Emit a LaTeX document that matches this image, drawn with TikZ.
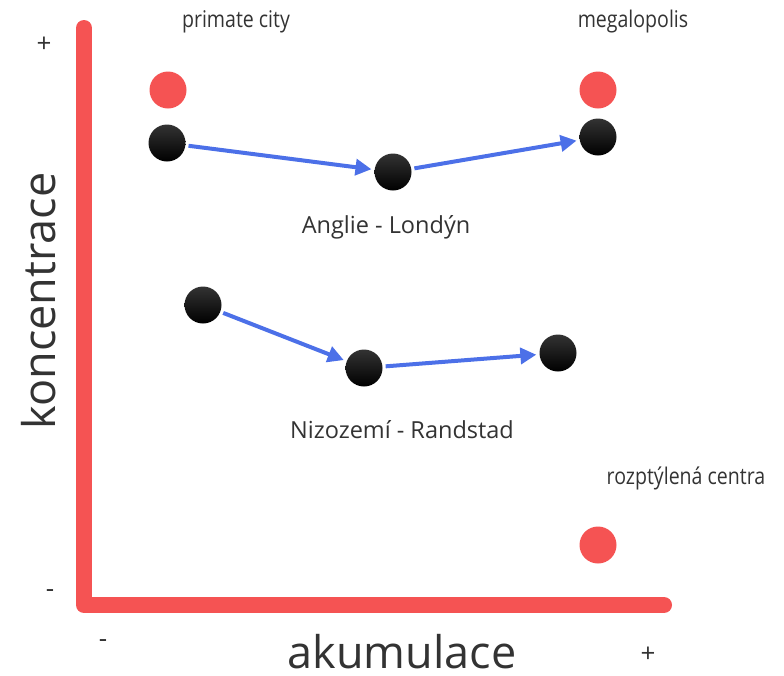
\documentclass[tikz,border=0pt]{standalone}
\usepackage{fontspec}
\setmainfont{Open Sans}
\newfontfamily\narrowfont[FakeStretch=0.85]{Open Sans}
\usepackage{xcolor}
\usetikzlibrary{positioning, arrows.meta}

\definecolor{axisred}{RGB}{245,83,83}
\definecolor{arrowblue}{RGB}{76,112,232}
\definecolor{textgray}{RGB}{51,51,51}

\tikzset{
  reddot/.style={circle, fill=axisred, minimum size=37pt, inner sep=0pt},
  blackdot/.style={circle, top color=black!80, bottom color=black, minimum size=37pt, inner sep=0pt},
  move/.style={-{Triangle[length=16pt,width=16pt]}, line width=4pt, color=arrowblue, shorten <=3pt, shorten >=3pt},
  typelabel/.style={font=\narrowfont\fontsize{23}{26}\selectfont, text=textgray, anchor=base},
  caselabel/.style={font=\fontsize{23.5}{27}\selectfont, text=textgray, anchor=base},
  axislabel/.style={font=\fontsize{45}{50}\selectfont, text=textgray, anchor=base, inner sep=0pt},
  signlabel/.style={font=\fontsize{26}{28}\selectfont, text=textgray}
}

\begin{document}
\begin{tikzpicture}[x=1pt,y=-1pt]
\useasboundingbox (0,0) rectangle (784,675);
%axes
\draw[line width=16pt, color=axisred, line cap=round, line join=round] (84,28) -- (84,605) -- (664,605);
\node[signlabel] (yplus) at (44,45) {+};
\node[signlabel] (yminus) at (50,594) {-};
\node[signlabel] (xminus) at (103,644) {-};
\node[signlabel] (xplus) at (648,655) {+};
\node[axislabel] (xname) at (402,668) {akumulace};
\node[axislabel, rotate=90] (yname) at (55,301) {koncentrace};
%
\node[typelabel] (primate) at (236,27) {primate city};
\node[typelabel] (megalo) at (633,27) {megalopolis};
\node[typelabel] (scatter) at (686,484) {rozptýlená centra};
\node[reddot] (r1) at (168,90) {};
\node[reddot] (r2) at (598,90) {};
\node[reddot] (r3) at (598,545) {};
%Anglie
\node[blackdot] (a1) at (167,143) {};
\node[blackdot] (a2) at (393,172) {};
\node[blackdot] (a3) at (598,137) {};
\draw[move] (a1) -- (a2);
\draw[move] (a2) -- (a3);
\node[caselabel] (england) at (386,233) {Anglie - Londýn};
%Nizozemi
\node[blackdot] (n1) at (203,305) {};
\node[blackdot] (n2) at (364,368) {};
\node[blackdot] (n3) at (558,353) {};
\draw[move] (n1) -- (n2);
\draw[move] (n2) -- (n3);
\node[caselabel] (dutch) at (402,438) {Nizozemí - Randstad};
\end{tikzpicture}
\end{document}
